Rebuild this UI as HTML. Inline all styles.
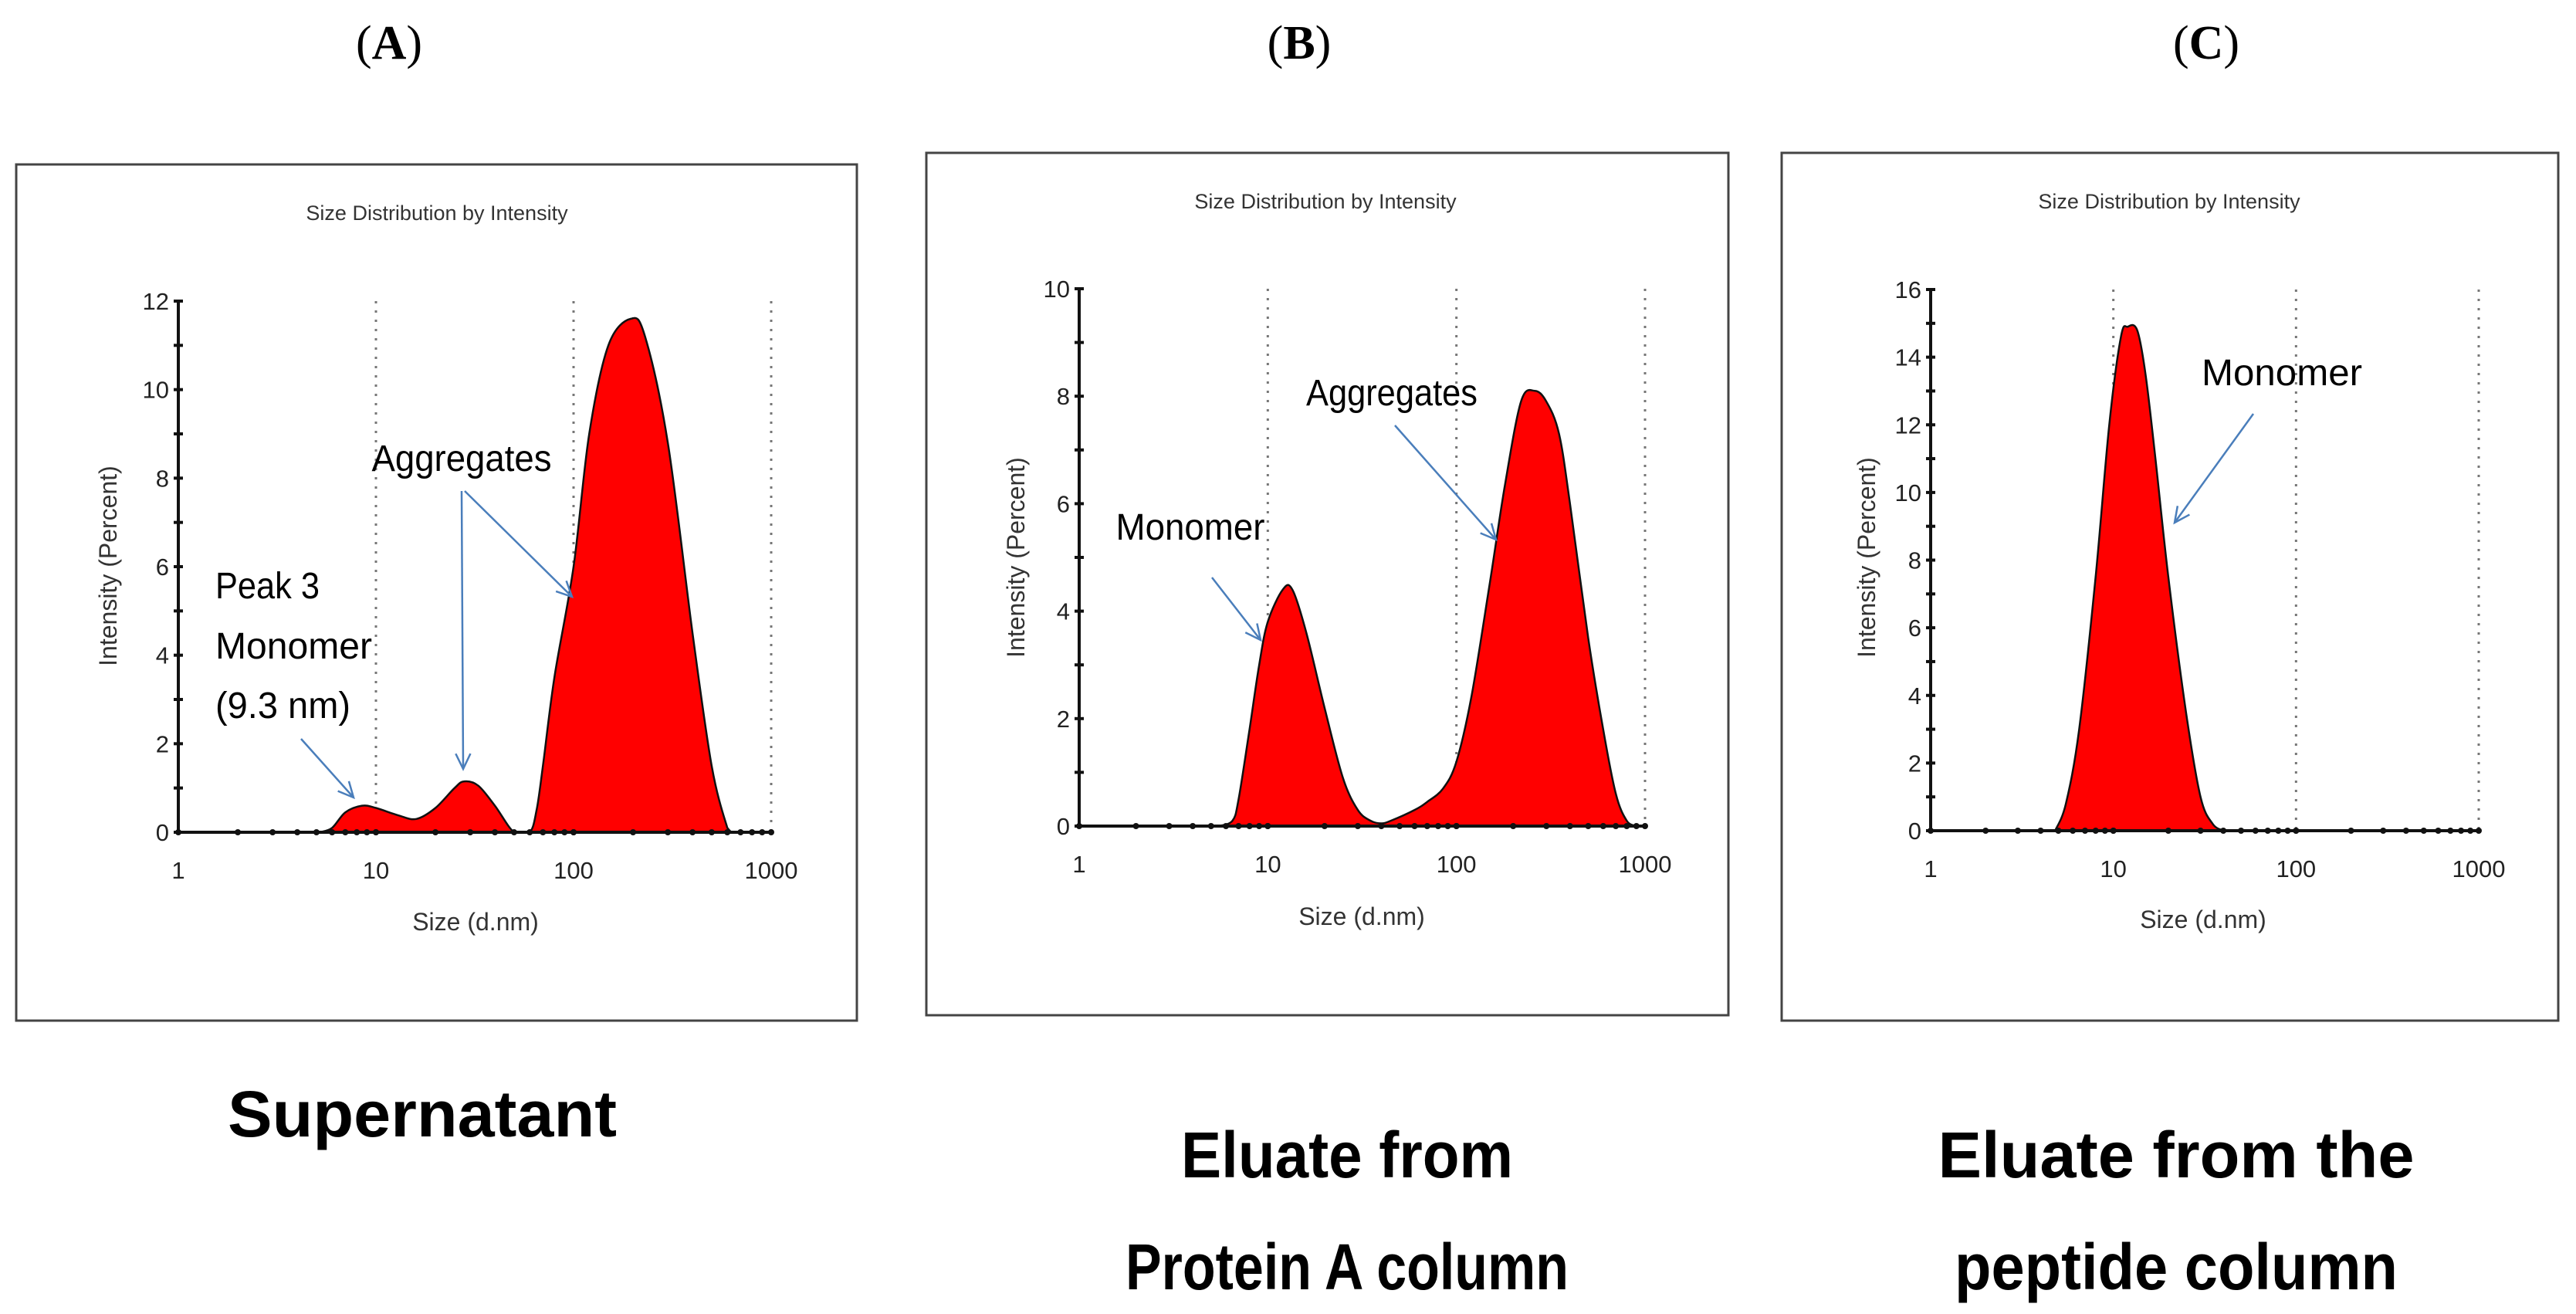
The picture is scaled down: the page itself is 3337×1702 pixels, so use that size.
<!DOCTYPE html>
<html><head><meta charset="utf-8">
<style>
html,body{margin:0;padding:0;background:#fff;}
svg{display:block;}
.tl{font-family:"Liberation Serif",serif;font-size:62px;fill:#000;}
.cap{font-family:"Liberation Sans",sans-serif;font-weight:bold;font-size:84px;fill:#000;}
.ann{font-family:"Liberation Sans",sans-serif;font-size:48px;fill:#000;}
.ct{font-family:"Liberation Sans",sans-serif;font-size:27px;fill:#333;}
.tk{font-family:"Liberation Sans",sans-serif;font-size:31px;fill:#222;}
.at{font-family:"Liberation Sans",sans-serif;font-size:32px;fill:#333;}
</style></head>
<body>
<svg id="fig" width="3337" height="1702" viewBox="0 0 3337 1702" xmlns="http://www.w3.org/2000/svg">
<g>
<text class="tl" x="504" y="76" text-anchor="middle">(<tspan font-weight="bold">A</tspan>)</text>
<text class="tl" x="1683" y="76" text-anchor="middle">(<tspan font-weight="bold">B</tspan>)</text>
<text class="tl" x="2858" y="76" text-anchor="middle">(<tspan font-weight="bold">C</tspan>)</text>
</g>
<g>
<text class="cap" x="547" y="1472" text-anchor="middle" textLength="504" lengthAdjust="spacingAndGlyphs">Supernatant</text>
<text class="cap" x="1745" y="1525" text-anchor="middle" textLength="430" lengthAdjust="spacingAndGlyphs">Eluate from</text>
<text class="cap" x="1745" y="1670" text-anchor="middle" textLength="574" lengthAdjust="spacingAndGlyphs">Protein A column</text>
<text class="cap" x="2819" y="1525" text-anchor="middle" textLength="617" lengthAdjust="spacingAndGlyphs">Eluate from the</text>
<text class="cap" x="2819" y="1670" text-anchor="middle" textLength="574" lengthAdjust="spacingAndGlyphs">peptide column</text>
</g>
</svg>
<script>
// Panel A data (Size d.nm, Intensity %)
const sizesA = [5.2,6,7,8.5,10,13,16,20,25,28,33,40,50,60,65,70,80,100,120,150,195,230,300,400,500,600,630];
const valuesA = [0,0.1,0.45,0.6,0.55,0.38,0.3,0.55,1.0,1.15,1.05,0.6,0,0,0.5,1.5,3.5,6,9,11,11.6,11.2,8.8,4.5,1.5,0.1,0];
const yTicksA = [0,2,4,6,8,10,12];
// Panel B data
const sizesB = [5.5,6.5,7,8,9,10,12,13.5,16,20,25,30,35,40,45,60,70,85,100,120,150,180,220,260,300,350,400,500,600,700,800,900];
const valuesB = [0,0.1,0.5,1.8,3,3.8,4.4,4.4,3.6,2.2,0.9,0.3,0.1,0.05,0.1,0.3,0.45,0.7,1.2,2.4,4.5,6.3,7.9,8.1,7.9,7.3,6,3.5,1.8,0.6,0.1,0];
const yTicksB = [0,2,4,6,8,10];
// Panel C data
const sizesC = [4.8,5.5,6.5,8,9.5,11,12,13.5,15,17,20,25,30,35,40];
const valuesC = [0,0.8,3,7.5,12,14.6,14.9,14.8,13.5,11,7.5,3.5,1,0.2,0];
const yTicksC = [0,2,4,6,8,10,12,14,16];
const xTickLabels = ["1","10","100","1000"];

const NS="http://www.w3.org/2000/svg";
const svg=document.getElementById('fig');
function mk(tag,attrs,parent){const e=document.createElementNS(NS,tag);for(const k in attrs)e.setAttribute(k,attrs[k]);parent.appendChild(e);return e;}

function smooth(pts,base){
  let d='M'+pts[0][0].toFixed(1)+','+base.toFixed(1)+' L'+pts[0][0].toFixed(1)+','+pts[0][1].toFixed(1);
  for(let i=0;i<pts.length-1;i++){
    const p0=pts[Math.max(0,i-1)],p1=pts[i],p2=pts[i+1],p3=pts[Math.min(pts.length-1,i+2)];
    let c1y=p1[1]+(p2[1]-p0[1])/6, c2y=p2[1]-(p3[1]-p1[1])/6;
    c1y=Math.min(c1y,base);c2y=Math.min(c2y,base);
    const c1x=p1[0]+(p2[0]-p0[0])/6, c2x=p2[0]-(p3[0]-p1[0])/6;
    d+=' C'+c1x.toFixed(1)+','+c1y.toFixed(1)+' '+c2x.toFixed(1)+','+c2y.toFixed(1)+' '+p2[0].toFixed(1)+','+p2[1].toFixed(1);
  }
  d+=' L'+pts[pts.length-1][0].toFixed(1)+','+base.toFixed(1)+' Z';
  return d;
}

function panel(id,cfg,sizes,vals,yTicks){
  const g=mk('g',{},svg);
  
  
  const fr=mk('rect',{x:cfg.fx,y:cfg.fy,width:cfg.fw,height:cfg.fh,fill:'#fff',stroke:'#444','stroke-width':3},g);
  
  
  const t=mk('text',{x:cfg.tx,y:cfg.ty,'class':'ct','text-anchor':'middle'},g);
  t.textContent='Size Distribution by Intensity';
  
  
  const ymax=yTicks[yTicks.length-1];
  const X=v=>cfg.x0+Math.log10(v)/3*(cfg.x1-cfg.x0);
  const Y=v=>cfg.y0-v/ymax*(cfg.y0-cfg.y1);
  [10,100,1000].forEach(v=>{
    const l=mk('line',{x1:X(v),x2:X(v),y1:cfg.y1,y2:cfg.y0,stroke:'#777','stroke-width':3,'stroke-dasharray':'3 9'},g);
    
    
  });
  const pts=sizes.map((s,i)=>[X(s),Y(vals[i])]);
  const a=mk('path',{d:smooth(pts,Y(0)),fill:'#ff0000',stroke:'#111','stroke-width':2.5,'stroke-linejoin':'round'},g);
  
  
  const ax=mk('line',{x1:cfg.x0,x2:cfg.x1,y1:cfg.y0,y2:cfg.y0,stroke:'#111','stroke-width':4},g);
  
  
  const ay=mk('line',{x1:cfg.x0,x2:cfg.x0,y1:cfg.y0,y2:cfg.y1,stroke:'#111','stroke-width':4},g);
  
  
  for(let dec=0;dec<3;dec++)for(let m=1;m<=10;m++){
    const v=Math.pow(10,dec)*m;
    const c=mk('circle',{cx:X(v),cy:cfg.y0,r:4,fill:'#111'},g);
    
    
  }
  xTickLabels.forEach((s,i)=>{
    const tt=mk('text',{x:X(Math.pow(10,i)),y:cfg.y0+60,'class':'tk','text-anchor':'middle'},g);
    tt.textContent=s;
    
    
  });
  const step=yTicks[1]-yTicks[0];
  for(let v=0;v<=ymax+1e-9;v+=step/2){
    const c=mk('line',{x1:cfg.x0-6,x2:cfg.x0+6,y1:Y(v),y2:Y(v),stroke:'#111','stroke-width':4},g);
    
    
  }
  yTicks.forEach(v=>{
    const tt=mk('text',{x:cfg.x0-12,y:Y(v)+11,'class':'tk','text-anchor':'end'},g);
    tt.textContent=String(v);
    
    
  });
  const xt=mk('text',{x:cfg.xtx,y:cfg.xty,'class':'at','text-anchor':'middle'},g);
  xt.textContent='Size (d.nm)';
  
  
  const yt=mk('text',{x:0,y:0,'class':'at','text-anchor':'middle',transform:'translate('+(cfg.ytx+11)+','+cfg.yty+') rotate(-90)'},g);
  yt.textContent='Intensity (Percent)';
  
  
  cfg.ann.forEach(n=>{
    const tt=mk('text',{x:n.x,y:n.y,'class':'ann','text-anchor':n.anchor||'start',textLength:n.w,lengthAdjust:'spacingAndGlyphs'},g);
    tt.textContent=n.t;
    
    
  });
  cfg.arrows.forEach(r=>{
    const l=mk('line',{x1:r[0],y1:r[1],x2:r[2],y2:r[3],stroke:'#4a7ebb','stroke-width':2.5},g);
    
    
    const ang=Math.atan2(r[3]-r[1],r[2]-r[0]);
    const L=22,w=0.45;
    const p1=[r[2]-L*Math.cos(ang-w),r[3]-L*Math.sin(ang-w)];
    const p2=[r[2]-L*Math.cos(ang+w),r[3]-L*Math.sin(ang+w)];
    const h=mk('polyline',{points:p1.join(',')+' '+r[2]+','+r[3]+' '+p2.join(','),fill:'none',stroke:'#4a7ebb','stroke-width':2.5},g);
    
    
  });
}

panel('a',{fx:21,fy:213,fw:1089,fh:1109,tx:566,ty:285,x0:231,x1:999,y0:1078,y1:390,
  xtx:616,xty:1205,ytx:140,yty:733,
  ann:[{t:'Aggregates',x:598,y:610,anchor:'middle',w:233},{t:'Peak 3',x:279,y:775,w:135},{t:'Monomer',x:279,y:853,w:203},{t:'(9.3 nm)',x:279,y:930,w:175}],
  arrows:[[598,636,600,996],[602,636,741,773],[390,957,458,1033]]},sizesA,valuesA,yTicksA);

panel('b',{fx:1200,fy:198,fw:1039,fh:1117,tx:1717,ty:270,x0:1398,x1:2131,y0:1070,y1:374,
  xtx:1764,xty:1198,ytx:1316,yty:722,
  ann:[{t:'Aggregates',x:1803,y:525,anchor:'middle',w:222},{t:'Monomer',x:1542,y:699,anchor:'middle',w:193}],
  arrows:[[1807,551,1938,699],[1570,748,1633,829]]},sizesB,valuesB,yTicksB);

panel('c',{fx:2308,fy:198,fw:1006,fh:1124,tx:2810,ty:270,x0:2501,x1:3211,y0:1076,y1:375,
  xtx:2854,xty:1202,ytx:2418,yty:722,
  ann:[{t:'Monomer',x:2956,y:499,anchor:'middle',w:208}],
  arrows:[[2919,536,2817,677]]},sizesC,valuesC,yTicksC);
</script>
</body></html>
